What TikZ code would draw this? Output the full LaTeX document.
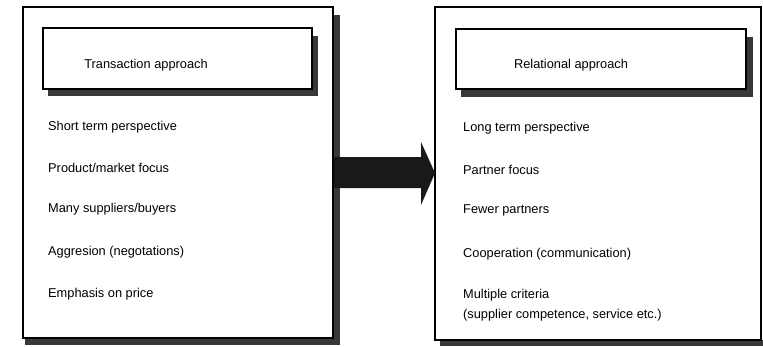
\documentclass[tikz,border=0pt]{standalone}
\usepackage{fontspec}
\setmainfont{Liberation Sans}
\begin{document}
\begin{tikzpicture}[x=1pt,y=-1pt,
  frame/.style={draw=black,line width=1.1pt,fill=white},
  shade/.style={fill=black!78,draw=none},
  item/.style={anchor=west,inner sep=0pt,font=\fontsize{12.8}{14}\selectfont},
  title/.style={anchor=center,inner sep=0pt,font=\fontsize{12.8}{14}\selectfont}]
\useasboundingbox (0,0) rectangle (763,346);
% left panel
\fill[shade] (333,15) rectangle (340,345);
\fill[shade] (25,338) rectangle (340,345);
\draw[frame] (23,7) rectangle (333,338);
\fill[shade] (312,36) rectangle (318,96);
\fill[shade] (48,89) rectangle (318,96);
\draw[frame] (43,28) rectangle (312,89);
\node[title] (lt) at (146,65) {Transaction approach};
\node[item] (l1) at (48,127) {Short term perspective};
\node[item] (l2) at (48,168) {Product/market focus};
\node[item] (l3) at (48,209) {Many suppliers/buyers};
\node[item] (l4) at (48,252) {Aggresion (negotations)};
\node[item] (l5) at (48,294) {Emphasis on price};
% right panel
\fill[shade] (440,340) rectangle (763,346);
\draw[frame] (435,7) rectangle (761,340);
\fill[shade] (746,37) rectangle (753,97);
\fill[shade] (461,89) rectangle (753,97);
\draw[frame] (456,29) rectangle (746,89);
\node[title] (rt) at (571,65) {Relational approach};
\node[item] (r1) at (463,128) {Long term perspective};
\node[item] (r2) at (463,170) {Partner focus};
\node[item] (r3) at (463,210) {Fewer partners};
\node[item] (r4) at (463,254) {Cooperation (communication)};
\node[item] (r5) at (463,295) {Multiple criteria};
\node[item] (r6) at (463,315) {(supplier competence, service etc.)};
% arrow
\fill[black!90] (334,157) -- (421,157) -- (421,142) -- (435,173) -- (421,205) -- (421,188) -- (334,188) -- cycle;
\end{tikzpicture}
\end{document}
